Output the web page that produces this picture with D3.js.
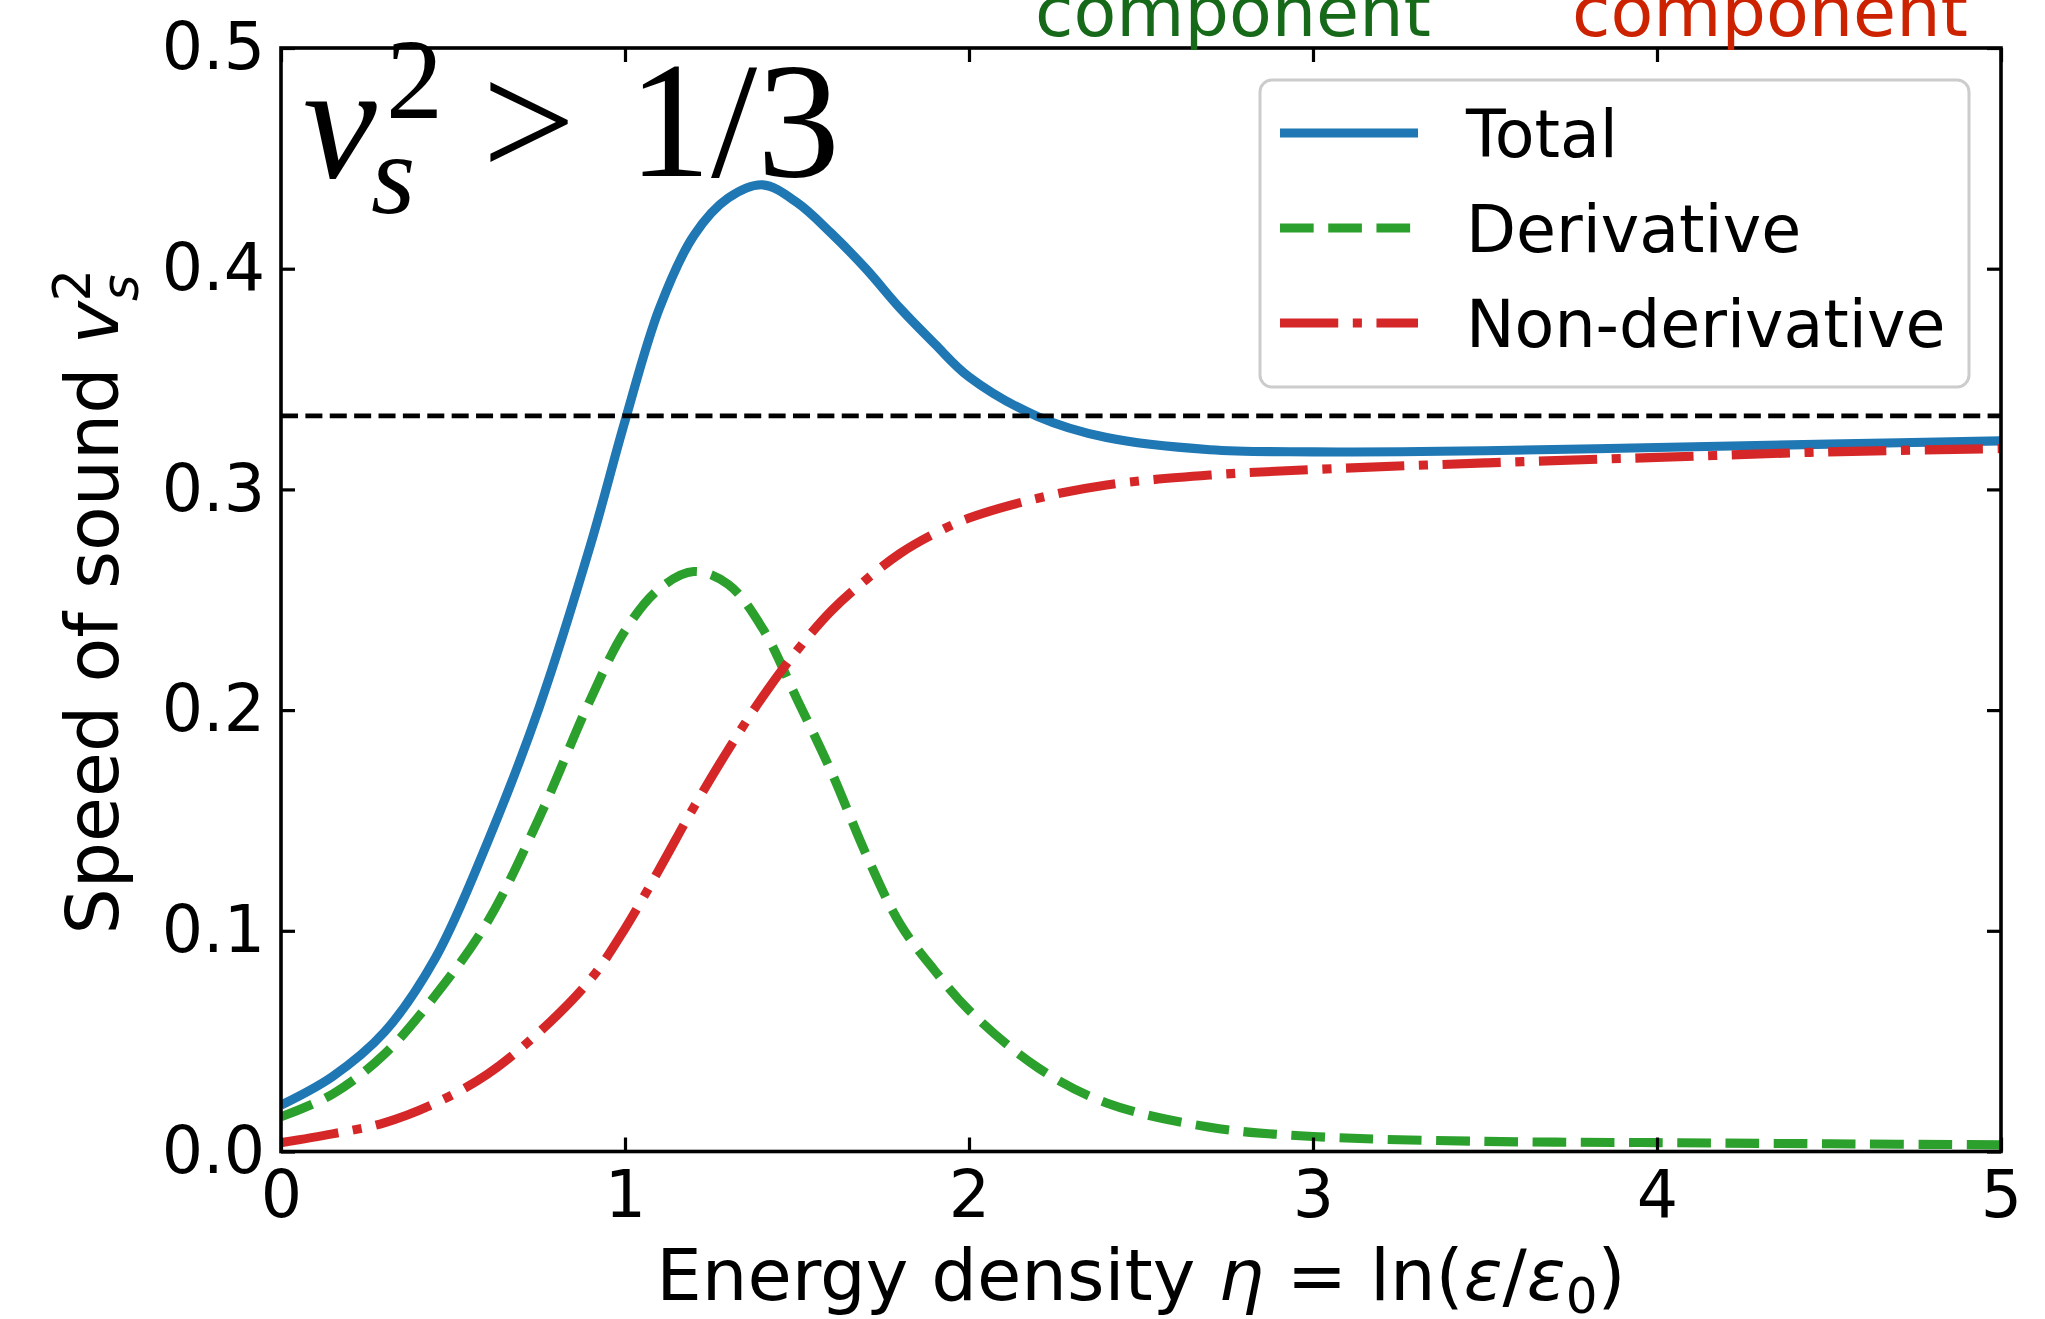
<!DOCTYPE html>
<html>
<head>
<meta charset="utf-8">
<script src="https://cdnjs.cloudflare.com/ajax/libs/d3/7.8.5/d3.min.js"></script>
<style>
  html, body { margin: 0; padding: 0; background: #ffffff; }
  svg { display: block; }
</style>
</head>
<body>
<svg id="chart" width="2045" height="1319"></svg>
<script>
// speed of sound vs energy density, total split in derivative / non-derivative parts

// sample points along eta
const etaGrid = [0, 0.15, 0.3, 0.45, 0.6, 0.75, 0.9, 1.0, 1.1, 1.2, 1.3, 1.4, 1.5, 1.6, 1.7, 1.8, 1.9, 2.0, 2.2, 2.4, 2.7, 3.0, 3.5, 4.0, 4.5, 5.0]
const totalVals = [0.021, 0.034, 0.054, 0.088, 0.140, 0.201, 0.275, 0.331, 0.382, 0.415, 0.432, 0.438, 0.430, 0.416, 0.400, 0.382, 0.366, 0.351, 0.333, 0.3235, 0.318, 0.317, 0.3175, 0.319, 0.3205, 0.322]
const derivVals = [0.0157, 0.026, 0.044, 0.071, 0.104, 0.151, 0.205, 0.236, 0.255, 0.2628, 0.257, 0.237, 0.205, 0.172, 0.135, 0.103, 0.082, 0.064, 0.038, 0.022, 0.011, 0.0068, 0.0046, 0.004, 0.0035, 0.003]
const nonDerivVals = [0.004, 0.008, 0.013, 0.022, 0.035, 0.054, 0.078, 0.101, 0.128, 0.156, 0.182, 0.206, 0.227, 0.245, 0.259, 0.271, 0.280, 0.287, 0.296, 0.302, 0.3065, 0.309, 0.312, 0.3145, 0.317, 0.3185]
const limitValue = 1 / 3

const xTicks = [0, 1, 2, 3, 4, 5]
const yTicks = [0, 0.1, 0.2, 0.3, 0.4, 0.5]
const yTickLabels = ["0.0", "0.1", "0.2", "0.3", "0.4", "0.5"]
const legendLabels = ["Total", "Derivative", "Non-derivative"]
const topNotes = ["component", "component"]

// layout
const plot = { left: 281, right: 2001, top: 48, bottom: 1151.5 }
const sansFont = "'DejaVu Sans', sans-serif"
const serifFont = "'Liberation Serif', 'DejaVu Serif', serif"
const tickFont = 65
const labelFont = 72

const colors = ["#1f77b4", "#2ca02c", "#d62728"]
const lw = 9.1
const dashes = ["none", (3.7 * lw) + "," + (1.6 * lw), [6.4 * lw, 1.6 * lw, 1.0 * lw, 1.6 * lw].join(",")]

const svg = d3.select("#chart")
svg.append("rect").attr("width", 2045).attr("height", 1319).attr("fill", "#ffffff")

const x = d3.scaleLinear().domain([0, 5]).range([plot.left, plot.right])
const y = d3.scaleLinear().domain([0, 0.5]).range([plot.bottom, plot.top])

svg.append("clipPath").attr("id", "plotClip")
    .append("rect")
    .attr("x", plot.left).attr("y", plot.top)
    .attr("width", plot.right - plot.left).attr("height", plot.bottom - plot.top)

// the three curves
let series = [totalVals, derivVals, nonDerivVals]
let line = d3.line()
    .x((d, i) => x(etaGrid[i]))
    .y(d => y(d))
    .curve(d3.curveCatmullRom.alpha(0.5))

let curves = svg.append("g").attr("clip-path", "url(#plotClip)")
series.forEach((vals, k) => {
    curves.append("path")
        .datum(vals)
        .attr("d", line)
        .attr("fill", "none")
        .attr("stroke", colors[k])
        .attr("stroke-width", lw)
        .attr("stroke-dasharray", dashes[k])
        .attr("stroke-linecap", "butt")
        .attr("stroke-linejoin", "round")
})

// conformal limit 1/3
curves.append("line")
    .attr("x1", x(0)).attr("x2", x(5))
    .attr("y1", y(limitValue)).attr("y2", y(limitValue))
    .attr("stroke", "#000000")
    .attr("stroke-width", 4.6)
    .attr("stroke-dasharray", (3.7 * 4.6) + "," + (1.6 * 4.6))

// axes, ticks pointing inward on all four sides
function styleAxis(g) {
    g.select(".domain").remove()
    g.selectAll(".tick line").attr("stroke", "#000").attr("stroke-width", 3.2)
    g.selectAll(".tick text")
        .attr("font-family", sansFont)
        .attr("font-size", tickFont)
        .attr("fill", "#000")
}

svg.append("g")
    .attr("transform", `translate(0,${plot.bottom})`)
    .call(d3.axisBottom(x).tickValues(xTicks).tickFormat(d3.format("d")).tickSizeInner(-14).tickSizeOuter(0).tickPadding(19))
    .call(styleAxis)

svg.append("g")
    .attr("transform", `translate(0,${plot.top})`)
    .call(d3.axisTop(x).tickValues(xTicks).tickFormat("").tickSizeInner(-14).tickSizeOuter(0))
    .call(styleAxis)

svg.append("g")
    .attr("transform", `translate(${plot.left},0)`)
    .call(d3.axisLeft(y).tickValues(yTicks).tickFormat((d, i) => yTickLabels[i]).tickSizeInner(-14).tickSizeOuter(0).tickPadding(16))
    .call(styleAxis)

svg.append("g")
    .attr("transform", `translate(${plot.right},0)`)
    .call(d3.axisRight(y).tickValues(yTicks).tickFormat("").tickSizeInner(-14).tickSizeOuter(0))
    .call(styleAxis)

// frame
svg.append("rect")
    .attr("x", plot.left).attr("y", plot.top)
    .attr("width", plot.right - plot.left).attr("height", plot.bottom - plot.top)
    .attr("fill", "none")
    .attr("stroke", "#000")
    .attr("stroke-width", 3.6)

// x label
let xl = svg.append("text")
    .attr("x", (plot.left + plot.right) / 2)
    .attr("y", 1300)
    .attr("text-anchor", "middle")
    .attr("font-family", sansFont)
    .attr("font-size", labelFont)
    .attr("fill", "#000")
xl.append("tspan").text("Energy density ")
xl.append("tspan").attr("font-style", "italic").text("η")
xl.append("tspan").text(" = ln(")
xl.append("tspan").attr("font-style", "italic").text("ε")
xl.append("tspan").text("/")
xl.append("tspan").attr("font-style", "italic").text("ε")
xl.append("tspan").attr("font-size", 50).attr("dy", 13).text("0")
xl.append("tspan").attr("dy", -13).text(")")

// y label
let yl = svg.append("text")
    .attr("transform", `translate(118,${(plot.top + plot.bottom) / 2 + 2}) rotate(-90)`)
    .attr("text-anchor", "middle")
    .attr("font-family", sansFont)
    .attr("font-size", 73)
    .attr("fill", "#000")
yl.append("tspan").text("Speed of sound ")
yl.append("tspan").attr("font-style", "italic").text("v")
yl.append("tspan").attr("font-style", "italic").attr("font-size", 51).attr("dy", 20).text("s")
yl.append("tspan").attr("font-size", 51).attr("dx", -27).attr("dy", -48).text("2")

// big annotation in the corner
let note = svg.append("g").attr("font-family", serifFont).attr("fill", "#000")
note.append("text").attr("x", 303).attr("y", 177).attr("font-size", 166).attr("font-style", "italic").text("v")
note.append("text").attr("x", 371).attr("y", 213).attr("font-size", 114).attr("font-style", "italic").text("s")
note.append("text").attr("x", 386).attr("y", 118).attr("font-size", 114).text("2")
note.append("text").attr("x", 482).attr("y", 177).attr("font-size", 166).text(">")
note.append("text").attr("x", 628).attr("y", 176).attr("font-size", 166).text("1/3")

// legend
let legend = svg.append("g")
legend.append("rect")
    .attr("x", 1260).attr("y", 80)
    .attr("width", 709).attr("height", 307)
    .attr("rx", 12)
    .attr("fill", "#ffffff").attr("fill-opacity", 0.8)
    .attr("stroke", "#cccccc").attr("stroke-width", 3)

legendLabels.forEach((lab, k) => {
    let ly = 133 + k * 95
    legend.append("line")
        .attr("x1", 1280).attr("x2", 1418)
        .attr("y1", ly).attr("y2", ly)
        .attr("stroke", colors[k])
        .attr("stroke-width", lw)
        .attr("stroke-dasharray", dashes[k])
    legend.append("text")
        .attr("x", 1466).attr("y", ly + 24)
        .attr("font-family", sansFont)
        .attr("font-size", tickFont)
        .attr("fill", "#000")
        .text(lab)
})

// leftover words of the panel titles, cut by the top edge
const noteColors = ["#17691a", "#cc2200"]
const noteCenters = [1233, 1770]
topNotes.forEach((t, k) => {
    svg.append("text")
        .attr("x", noteCenters[k]).attr("y", 36)
        .attr("text-anchor", "middle")
        .attr("font-family", sansFont)
        .attr("font-size", 70)
        .attr("fill", noteColors[k])
        .text(t)
})
</script>
</body>
</html>
